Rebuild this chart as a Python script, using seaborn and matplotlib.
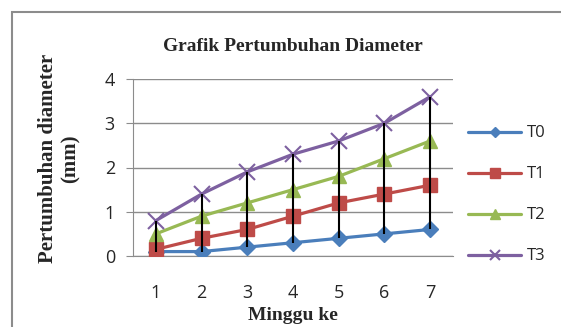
import matplotlib
matplotlib.use("Agg")
import matplotlib.pyplot as plt
import seaborn as sns
import pandas as pd
from matplotlib.patches import Rectangle

# data
weeks = [1, 2, 3, 4, 5, 6, 7]
t0 = [0.1, 0.1, 0.2, 0.3, 0.4, 0.5, 0.6]
t1 = [0.15, 0.4, 0.6, 0.9, 1.2, 1.4, 1.6]
t2 = [0.5, 0.9, 1.2, 1.5, 1.8, 2.2, 2.6]
t3 = [0.8, 1.4, 1.9, 2.3, 2.6, 3.0, 3.6]
series_names = ["T0", "T1", "T2", "T3"]

df = pd.DataFrame({"Minggu": weeks, "T0": t0, "T1": t1, "T2": t2, "T3": t3})
long = df.melt(id_vars="Minggu", var_name="seri", value_name="diameter")

colors = {"T0": "#4A7EBB", "T1": "#BE4B48", "T2": "#98B954", "T3": "#7D60A0"}
markers = {"T0": "D", "T1": "s", "T2": "^", "T3": "x"}
msize = {"T0": 8, "T1": 10, "T2": 10, "T3": 11}

sns.set_style("white")
fig = plt.figure(figsize=(5.61, 3.27), dpi=100)
ax = fig.add_axes([133 / 561, 1 - 256 / 327, 320 / 561, 177 / 327])

# outer frame of the chart area
fig.patches.append(Rectangle((12 / 561, -0.05), 1.0, 1 - 12 / 327 + 0.05,
                             transform=fig.transFigure, fill=False,
                             edgecolor="#8C8C8C", linewidth=1.5))

# high-low lines
lo = df[series_names].min(axis=1)
hi = df[series_names].max(axis=1)
ax.vlines(df["Minggu"], lo, hi, color="black", linewidth=1.5, zorder=4)

for name in series_names:
    sub = long[long["seri"] == name]
    sns.lineplot(data=sub, x="Minggu", y="diameter", ax=ax,
                 color=colors[name], marker=markers[name],
                 markersize=msize[name], markeredgecolor=colors[name],
                 markeredgewidth=1.5 if name == "T3" else 1,
                 linewidth=2.3, label=name, zorder=3)

ax.set_xlim(0.5, 7.5)
ax.set_ylim(0, 4)
ax.set_xticks(weeks)
ax.set_yticks([0, 1, 2, 3, 4])
ax.yaxis.grid(True, color="#8C8C8C", linewidth=1)
ax.set_axisbelow(True)
for s in ["top", "right"]:
    ax.spines[s].set_visible(False)
ax.spines["left"].set_color("#8C8C8C")
ax.spines["bottom"].set_color("#8C8C8C")
ax.tick_params(axis="y", length=5, color="#8C8C8C", left=True, labelsize=13, pad=8)
ax.tick_params(axis="x", length=0, labelsize=13, pad=20)
for lab in ax.get_xticklabels() + ax.get_yticklabels():
    lab.set_fontfamily("Open Sans")

ax.set_xlabel("Minggu ke", fontfamily="Liberation Serif", fontweight="bold",
              fontsize=14, labelpad=4)
ax.set_ylabel("Pertumbuhan diameter\n(mm)", fontfamily="Liberation Serif",
              fontweight="bold", fontsize=15, linespacing=1.15)
ax.yaxis.set_label_coords(-0.165, 0.55)
ax.set_title("Grafik Pertumbuhan Diameter", fontfamily="Liberation Serif",
             fontweight="bold", fontsize=14, pad=20)

leg = ax.legend(loc="center left", bbox_to_anchor=(1.047, 0.345), frameon=False,
                borderaxespad=0, borderpad=0,
                labelspacing=1.5, handlelength=3.2, handletextpad=0.36,
                markerscale=0.7, prop={"family": "Open Sans", "size": 12})

fig.savefig("out.png", dpi=100)
